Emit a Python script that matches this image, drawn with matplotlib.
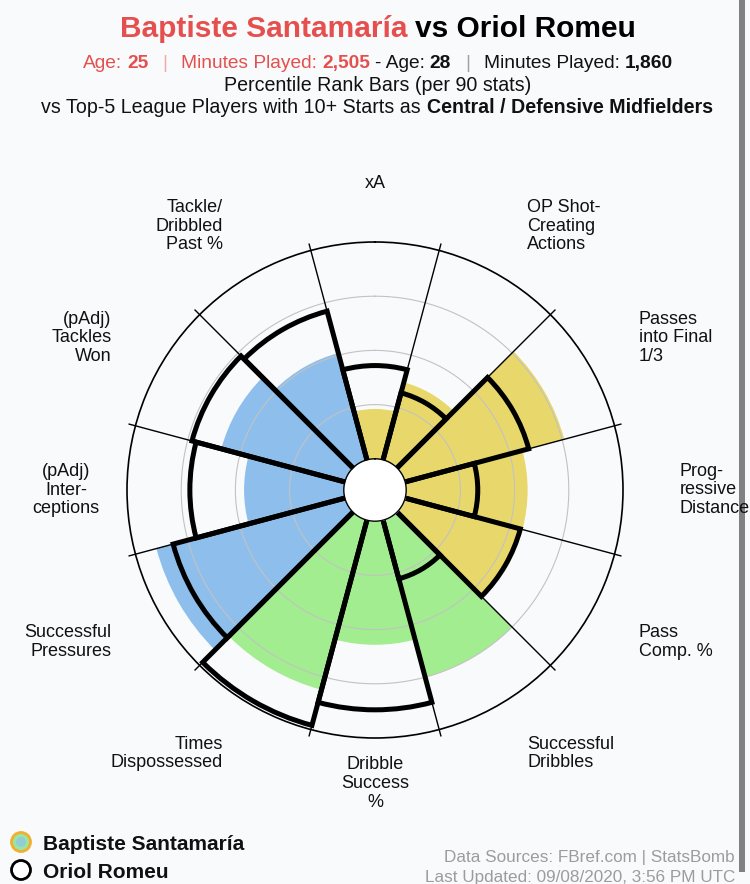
import numpy as np
import matplotlib
matplotlib.use('Agg')
import matplotlib.pyplot as plt
from matplotlib.patches import Circle, Rectangle

plt.rcParams['font.family'] = ['Liberation Sans', 'DejaVu Sans']

# --- data (percentile ranks, clockwise from top) ---
stats = ['xA', 'OP Shot-\nCreating\nActions', 'Passes\ninto Final\n1/3',
         'Prog-\nressive\nDistance', 'Pass\nComp. %', 'Successful\nDribbles',
         'Dribble\nSuccess\n%', 'Times\nDispossessed', 'Successful\nPressures',
         '(pAdj)\nInter-\nceptions', '(pAdj)\nTackles\nWon', 'Tackle/\nDribbled\nPast %']
baptiste = [23, 37, 76, 56, 55, 75, 57, 81, 90, 46, 59, 51]
oriol = [43, 32, 59, 33, 55, 28, 87, 98, 82, 71, 73, 71]
groups = ['att', 'att', 'att', 'att', 'att', 'poss', 'poss', 'poss',
          'def', 'def', 'def', 'def']

player1 = 'Baptiste Santamaría'
player2 = 'Oriol Romeu'
age1, mins1 = '25', '2,505'
age2, mins2 = '28', '1,860'

group_colors = {'att': '#E8D86B', 'poss': '#A2ED90', 'def': '#8EBFEC'}
bg = '#F9FAFC'
red = '#E5504E'
W, H = 750, 884

fig = plt.figure(figsize=(W / 100, H / 100), dpi=100, facecolor=bg)

# overlay axes in pixel units for the text around the chart
ov = fig.add_axes([0, 0, 1, 1])
ov.set_xlim(0, W)
ov.set_ylim(H, 0)
ov.axis('off')

renderer = fig.canvas.get_renderer()


def rich_line(parts, y, size, xc=W / 2):
    # parts: (text, color, weight, gap before in px)
    texts, widths, gaps = [], [], []
    for s, color, weight, gap in parts:
        t = ov.text(0, y, s, fontsize=size, color=color, fontweight=weight,
                    ha='left', va='baseline')
        texts.append(t)
        widths.append(t.get_window_extent(renderer).width)
        gaps.append(gap)
    total = sum(widths) + sum(gaps)
    x = xc - total / 2
    for t, w, g in zip(texts, widths, gaps):
        x += g
        t.set_x(x)
        x += w


rich_line([(player1, red, 'bold', 0), ('vs ' + player2, 'black', 'bold', 8)], 37, 21.5, 378)
rich_line([('Age:', red, 'normal', 0), (age1, red, 'bold', 5),
           ('|', '#F4A8A8', 'normal', 14), ('Minutes Played:', red, 'normal', 14),
           (mins1, red, 'bold', 5), ('- Age:', '#111111', 'normal', 5),
           (age2, '#111111', 'bold', 5), ('|', '#A0A0A0', 'normal', 14),
           ('Minutes Played:', '#111111', 'normal', 14), (mins2, '#111111', 'bold', 5)],
          68, 13.8, 378)
rich_line([('Percentile Rank Bars (per 90 stats)', '#111111', 'normal', 0)], 91, 14.1, 378)
rich_line([('vs Top-5 League Players with 10+ Starts as', '#111111', 'normal', 0),
           ('Central / Defensive Midfielders', '#111111', 'bold', 7)], 113, 14.1, 377)

# legend
ov.add_patch(Circle((21, 842), 9.5, facecolor='#9BE5A0', edgecolor='#F2AE2E', lw=2))
ov.add_patch(Circle((21, 842), 5, facecolor='#8FC6E6', edgecolor='none', alpha=0.8))
ov.add_patch(Circle((21, 870), 9.5, facecolor='white', edgecolor='black', lw=2))
ov.text(43, 850, player1, fontsize=15, fontweight='bold', color='#111111', va='baseline')
ov.text(43, 878, player2, fontsize=15, fontweight='bold', color='#111111', va='baseline')

# footer
ov.text(735, 862, 'Data Sources: FBref.com | StatsBomb', fontsize=12.3,
        color='#9C9C9C', ha='right', va='baseline')
ov.text(735, 882, 'Last Updated: 09/08/2020, 3:56 PM UTC', fontsize=12.3,
        color='#9C9C9C', ha='right', va='baseline')

# scrollbar strip on the right edge
ov.add_patch(Rectangle((738.5, 0), 6, 872, facecolor='#818181', edgecolor='none', zorder=10))

# --- polar chart ---
cx, cy, R = 375, 490, 248
ax = fig.add_axes([(cx - R) / W, (H - cy - R) / H, 2 * R / W, 2 * R / H],
                  projection='polar')
ax.set_facecolor(bg)
ax.set_theta_zero_location('N')
ax.set_theta_direction(-1)
rmin = -14.4
ax.set_ylim(rmin, 100)

n = len(stats)
theta = np.arange(n) * 2 * np.pi / n
width = 2 * np.pi / n
colors = [group_colors[g] for g in groups]

ax.bar(theta, baptiste, width=width, bottom=0, color=colors, linewidth=0, zorder=1)

ring = np.linspace(0, 2 * np.pi, 500)
for g in (25, 50, 75):
    ax.plot(ring, np.full_like(ring, g), color='#C2C2C2', lw=0.8, zorder=2)

for b in theta + width / 2:
    ax.plot([b, b], [0, 103], color='black', lw=1, zorder=3, clip_on=False)

ax.bar(theta, np.array(oriol) + 5, width=width, bottom=-5, fill=False,
       edgecolor='black', linewidth=3.6, zorder=4)

# hole in the middle
ax.fill_between(ring, rmin, 0, color='white', lw=0, zorder=5)
ax.plot(ring, np.zeros_like(ring), color='black', lw=1, zorder=6)

ax.set_xticks([])
ax.set_yticks([])
ax.grid(False)
ax.spines['polar'].set_color('black')
ax.spines['polar'].set_linewidth(1.2)

# category labels
label_r = {0: 127, 6: 121, 9: 128}
for i, (t, s) in enumerate(zip(theta, stats)):
    deg = i * 360 / n
    if deg in (0, 180) or i == 9:
        ha = 'center'
    elif deg < 180:
        ha = 'left'
    else:
        ha = 'right'
    ax.text(t, label_r.get(i, 126), s, ha=ha, va='center', multialignment=ha,
            fontsize=13, color='#111111', linespacing=1.12, clip_on=False)

fig.savefig('out.png', dpi=100, facecolor=bg)
